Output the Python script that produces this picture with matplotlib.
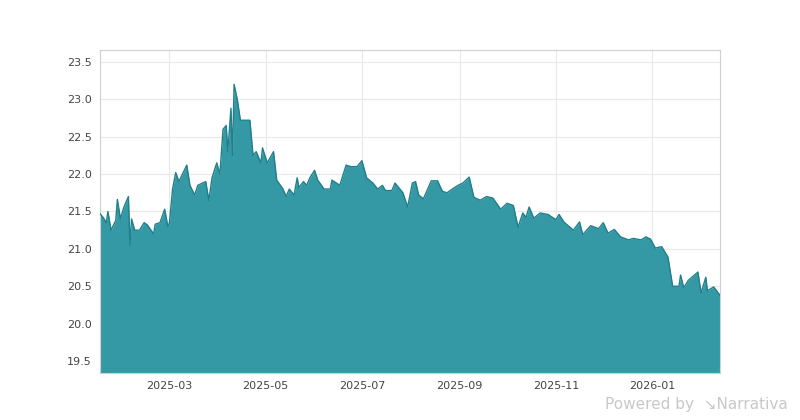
import matplotlib
matplotlib.use('Agg')
import matplotlib.pyplot as plt
import matplotlib.dates as mdates
import pandas as pd

dates = ['2025-01-16','2025-01-18','2025-01-20','2025-01-21','2025-01-23','2025-01-26','2025-01-27',
         '2025-01-29','2025-01-31','2025-02-03','2025-02-04','2025-02-05','2025-02-07','2025-02-10',
         '2025-02-13','2025-02-15','2025-02-19','2025-02-20','2025-02-23','2025-02-26','2025-02-28',
         '2025-03-01','2025-03-03','2025-03-05','2025-03-07','2025-03-12','2025-03-14','2025-03-17',
         '2025-03-19','2025-03-24','2025-03-26','2025-03-28','2025-03-31','2025-04-02','2025-04-04',
         '2025-04-06','2025-04-07','2025-04-09','2025-04-10','2025-04-11','2025-04-13','2025-04-15',
         '2025-04-21','2025-04-23','2025-04-25','2025-04-28','2025-04-29','2025-05-02','2025-05-06',
         '2025-05-08','2025-05-12','2025-05-14','2025-05-16','2025-05-19','2025-05-21','2025-05-22',
         '2025-05-25','2025-05-27','2025-05-29','2025-06-01','2025-06-03','2025-06-07','2025-06-11',
         '2025-06-12','2025-06-17','2025-06-21','2025-06-24','2025-06-28','2025-07-01','2025-07-04',
         '2025-07-08','2025-07-11','2025-07-14','2025-07-16','2025-07-20','2025-07-22','2025-07-27',
         '2025-07-30','2025-08-02','2025-08-04','2025-08-06','2025-08-09','2025-08-14','2025-08-18',
         '2025-08-21','2025-08-24','2025-08-28','2025-08-31','2025-09-03','2025-09-07','2025-09-10',
         '2025-09-14','2025-09-18','2025-09-22','2025-09-27','2025-10-01','2025-10-05','2025-10-08',
         '2025-10-11','2025-10-13','2025-10-15','2025-10-18','2025-10-22','2025-10-27','2025-11-01',
         '2025-11-03','2025-11-06','2025-11-12','2025-11-16','2025-11-18','2025-11-23','2025-11-28',
         '2025-12-01','2025-12-04','2025-12-08','2025-12-12','2025-12-17','2025-12-20','2025-12-25',
         '2025-12-28','2025-12-31','2026-01-03','2026-01-07','2026-01-11','2026-01-14','2026-01-18',
         '2026-01-19','2026-01-21','2026-01-24','2026-01-30','2026-02-01','2026-02-04','2026-02-05',
         '2026-02-09','2026-02-13']
values = [21.47,21.42,21.35,21.50,21.25,21.38,21.66,
          21.40,21.55,21.70,21.05,21.40,21.25,21.25,
          21.35,21.32,21.20,21.33,21.35,21.53,21.30,
          21.35,21.80,22.02,21.90,22.12,21.85,21.72,
          21.85,21.90,21.65,21.95,22.15,22.00,22.60,
          22.65,22.30,22.88,22.25,23.20,23.00,22.72,
          22.72,22.25,22.30,22.15,22.35,22.15,22.30,
          21.92,21.80,21.70,21.80,21.72,21.95,21.82,
          21.90,21.85,21.95,22.05,21.92,21.80,21.80,
          21.92,21.85,22.12,22.10,22.10,22.18,21.95,
          21.88,21.80,21.85,21.78,21.78,21.88,21.75,
          21.56,21.88,21.90,21.72,21.67,21.91,21.91,
          21.77,21.75,21.81,21.85,21.88,21.96,21.69,
          21.65,21.70,21.68,21.53,21.61,21.58,21.29,
          21.48,21.42,21.56,21.41,21.48,21.46,21.39,
          21.46,21.36,21.25,21.36,21.19,21.31,21.27,
          21.35,21.21,21.26,21.16,21.12,21.14,21.12,
          21.16,21.13,21.01,21.03,20.89,20.50,20.50,
          20.65,20.48,20.58,20.69,20.41,20.62,20.44,
          20.49,20.38]

x = pd.to_datetime(dates)
ymin, ymax = 19.34, 23.66

fig = plt.figure(figsize=(8, 4.2), dpi=100)
ax = fig.add_axes([0.125, 0.112, 0.775, 0.769])
ax.fill_between(x, values, ymin, color='#3499a5', linewidth=0, zorder=2)
ax.plot(x, values, color='#1f7f8a', linewidth=1, zorder=3)

ax.set_ylim(ymin, ymax)
ax.set_xlim(x[0], x[-1])
ax.set_yticks([19.5, 20.0, 20.5, 21.0, 21.5, 22.0, 22.5, 23.0, 23.5])
ax.xaxis.set_major_locator(mdates.MonthLocator(bymonth=[1, 3, 5, 7, 9, 11]))
ax.xaxis.set_major_formatter(mdates.DateFormatter('%Y-%m'))
ax.grid(True, color='#e8e8e8', linewidth=0.8, zorder=0)
ax.tick_params(labelsize=8, colors='#444444', length=0, pad=6)
for s in ax.spines.values():
    s.set_color('#d0d0d0')

fig.text(0.985, 0.02, 'Powered by  \u2198Narrativa', ha='right', va='bottom',
         fontsize=11, color='#c8c8c8')
fig.savefig('out.png')
